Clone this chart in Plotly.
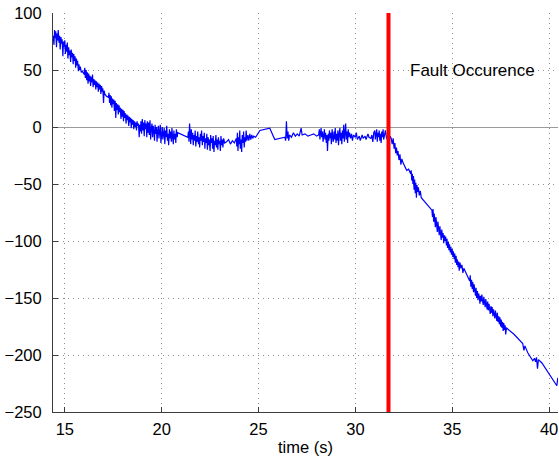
import plotly.graph_objects as go

# ---- data (time in s, signal value) ----
decay_segment = [
    (14.40, 80), (14.44, 72), (14.47, 85), (14.50, 78), (14.53, 84), (14.57, 70),
    (14.60, 82), (14.63, 76), (14.66, 85), (14.70, 74), (14.73, 80), (14.76, 68),
    (14.80, 79), (14.83, 73), (14.86, 77), (14.90, 62), (14.93, 75), (14.96, 70),
    (15.00, 76), (15.03, 64), (15.06, 72), (15.10, 66), (15.13, 74), (15.16, 60),
    (15.20, 70), (15.23, 63), (15.26, 67), (15.30, 57), (15.33, 68), (15.36, 61),
    (15.40, 65), (15.43, 55), (15.46, 64), (15.50, 58), (15.53, 62), (15.56, 52),
    (15.60, 60), (15.63, 54), (15.66, 58), (15.70, 49), (15.73, 55), (15.76, 50),
    (15.80, 53), (15.85, 48), (15.90, 49), (16.00, 46), (16.03, 52), (16.06, 43),
    (16.10, 50), (16.13, 41), (16.16, 48), (16.20, 38), (16.23, 47), (16.26, 40),
    (16.30, 45), (16.33, 36), (16.36, 44), (16.40, 39), (16.43, 46), (16.46, 35),
    (16.50, 42), (16.53, 37), (16.56, 41), (16.60, 33), (16.63, 40), (16.66, 35),
    (16.70, 39), (16.73, 31), (16.76, 38), (16.80, 33), (16.83, 37), (16.86, 29),
    (16.90, 36), (16.93, 31), (16.96, 34), (17.00, 21), (17.03, 32), (17.06, 29),
    (17.15, 27), (17.25, 26), (17.28, 30), (17.31, 21), (17.34, 28), (17.37, 19),
    (17.40, 27), (17.43, 17), (17.46, 25), (17.50, 20), (17.53, 24), (17.56, 14),
    (17.60, 23), (17.63, 8), (17.66, 21), (17.70, 15), (17.73, 20), (17.76, 11),
    (17.80, 19), (17.83, 13), (17.86, 17), (17.90, 7), (17.93, 16), (17.96, 9),
    (18.00, 15), (18.03, 5), (18.06, 14), (18.10, 8), (18.13, 12), (18.16, 3),
    (18.20, 11), (18.23, 6), (18.26, 10), (18.30, 1), (18.33, 9), (18.36, 4),
    (18.40, 8), (18.43, -1), (18.46, 7), (18.50, 2), (18.53, 6), (18.56, -2),
    (18.60, 5), (18.63, 0), (18.66, 4), (18.70, -3), (18.73, 5), (18.76, 1),
    (18.80, 3), (18.84, -9), (18.87, 2), (18.90, -4), (18.93, 5), (18.96, -6),
    (19.00, 7), (19.03, -3), (19.06, 4), (19.10, -8), (19.13, 6), (19.16, -2),
    (19.20, 3), (19.23, -9), (19.26, 5), (19.30, -5),
]

plateau_segment = [
    (19.33, 4), (19.36, -7), (19.40, 6), (19.43, -11), (19.46, -2), (19.50, 3),
    (19.53, -9), (19.56, 1), (19.60, -4), (19.63, -12), (19.66, 2), (19.70, -6),
    (19.73, 0), (19.76, -13), (19.80, -3), (19.83, 1), (19.86, -10), (19.90, -5),
    (19.93, 2), (19.96, -14), (20.00, -4), (20.03, 0), (20.06, -11), (20.10, -7),
    (20.13, -1), (20.16, -15), (20.20, -3), (20.23, -9), (20.26, 1), (20.30, -12),
    (20.33, -6), (20.36, -16), (20.40, -2), (20.43, -10), (20.46, -4), (20.50, -13),
    (20.53, -1), (20.56, -8), (20.60, -15), (20.63, -3), (20.66, -11), (20.70, -6),
    (20.73, -14), (20.76, -2), (20.80, -9), (20.83, -5), (21.35, -9), (21.38, -4),
    (21.41, -13), (21.44, 3), (21.47, -8), (21.50, -15), (21.53, -2), (21.56, -11),
    (21.60, -5), (21.63, -16), (21.66, -7), (21.70, -12), (21.73, -3), (21.76, -17),
    (21.80, -8), (21.83, -13), (21.86, -4), (21.90, -15), (21.93, -9), (21.96, -18),
    (22.00, -6), (22.03, -12), (22.06, -3), (22.10, -16), (22.13, -8), (22.16, -13),
    (22.20, -5), (22.23, -19), (22.26, -10), (22.30, -14), (22.33, -6), (22.36, -20),
    (22.40, -9), (22.43, -16), (22.46, -11), (22.50, -21), (22.53, -7), (22.56, -14),
    (22.60, -10), (22.63, -19), (22.66, -8), (22.70, -22), (22.73, -12), (22.76, -16),
    (22.80, -7), (22.83, -18), (22.86, -11), (22.90, -20), (22.93, -9), (22.96, -15),
    (23.00, -12), (23.03, -21), (23.06, -8), (23.10, -16), (23.13, -11), (23.16, -18),
    (23.20, -10), (23.25, -14), (23.35, -13), (23.45, -11), (23.55, -15), (23.65, -12),
    (23.75, -14), (23.85, -10), (23.88, -17), (23.91, -5), (23.94, -21), (23.97, -9),
    (24.00, -15), (24.03, -3), (24.06, -19), (24.10, -11), (24.13, -22), (24.16, -7),
    (24.20, -14), (24.23, -4), (24.26, -18), (24.30, -9), (24.33, -13), (24.36, -3),
    (24.40, -12), (24.45, -7), (24.50, -12), (24.55, -6), (24.60, -11), (24.65, -7),
    (24.70, -10), (24.75, -8), (24.85, -9), (24.95, -6), (25.07, -3), (25.58, -1),
    (25.84, -11), (26.36, -9), (26.40, -12), (26.44, 5), (26.48, -10), (26.52, -4),
    (26.56, -12),
]

hold_segment = [
    (26.60, -7), (26.70, -9), (26.80, -5), (26.90, -8), (27.00, -6), (27.10, -8),
    (27.20, -1), (27.25, -7), (27.40, -6), (27.55, -8), (27.70, -7), (27.85, -6),
    (28.00, -8), (28.10, -7), (28.14, -2), (28.17, -11), (28.20, -5), (28.23, -1),
    (28.26, -9), (28.30, -4), (28.33, -13), (28.36, -6), (28.40, -2), (28.43, -11),
    (28.46, -5), (28.50, -14), (28.53, -7), (28.56, -21), (28.60, -6), (28.63, -12),
    (28.66, -3), (28.70, -10), (28.73, -5), (28.76, -15), (28.80, -2), (28.83, -9),
    (28.86, -13), (28.90, -4), (28.93, -11), (28.96, -1), (29.00, -14), (29.03, -6),
    (29.06, -12), (29.10, -3), (29.13, -16), (29.16, -7), (29.20, -1), (29.23, -12),
    (29.26, -5), (29.30, -15), (29.33, -3), (29.36, -10), (29.40, 2), (29.43, -13),
    (29.46, -6), (29.50, 3), (29.53, -11), (29.56, -4), (29.60, -14), (29.63, -2),
    (29.66, -9), (29.70, -5), (29.75, -10), (29.80, -6), (29.85, -12), (29.90, -7),
    (30.00, -9), (30.05, -5), (30.10, -11), (30.20, -8), (30.25, -12), (30.35, -7),
    (30.40, -10), (30.50, -8), (30.55, -11), (30.65, -6), (30.70, -9), (30.80, -10),
    (30.85, -7), (30.90, -13), (30.95, -5), (31.00, -3), (31.03, -11), (31.06, -6),
    (31.10, -2), (31.13, -13), (31.16, -5), (31.20, -9), (31.23, -3), (31.26, -12),
    (31.30, -6), (31.33, -14), (31.36, -4), (31.40, -9), (31.43, -2), (31.46, -11),
    (31.50, -6), (31.55, -3), (31.60, -9), (31.65, -11), (31.70, -7),
]

fault_segment = [
    (31.75, -12), (31.80, -8), (31.85, -10), (31.90, -15), (31.95, -10), (32.00, -19),
    (32.04, -14), (32.08, -23), (32.12, -18), (32.16, -25), (32.20, -21), (32.25, -29),
    (32.30, -24), (32.35, -33), (32.40, -28), (32.45, -31), (32.55, -35), (32.65, -38),
    (32.75, -37), (32.85, -41), (32.88, -38), (32.91, -47), (32.94, -41), (32.97, -50),
    (33.00, -43), (33.03, -55), (33.06, -46), (33.09, -58), (33.12, -49), (33.15, -62),
    (33.18, -51), (33.21, -57), (33.25, -53), (33.30, -60), (33.35, -56), (33.40, -62),
    (33.95, -73), (33.98, -79), (34.01, -72), (34.04, -83), (34.07, -76), (34.10, -80),
    (34.13, -88), (34.16, -79), (34.20, -85), (34.23, -92), (34.26, -83), (34.30, -89),
    (34.33, -95), (34.36, -87), (34.40, -94), (34.43, -99), (34.46, -90), (34.50, -97),
    (34.53, -93), (34.56, -102), (34.60, -95), (34.63, -100), (34.66, -96), (34.70, -104),
    (34.73, -98), (34.76, -106), (34.80, -101), (34.83, -108), (34.86, -103), (34.90, -110),
    (34.93, -105), (34.96, -112), (35.00, -107), (35.03, -114), (35.06, -109), (35.10, -116),
    (35.13, -111), (35.16, -119), (35.20, -113), (35.23, -121), (35.26, -116), (35.30, -123),
    (35.33, -118), (35.36, -126), (35.40, -119), (35.45, -124), (35.50, -121), (35.55, -128),
    (35.60, -124), (35.65, -126), (35.90, -135), (35.93, -130), (35.96, -140), (36.00, -134),
    (36.03, -142), (36.06, -136), (36.10, -145), (36.13, -138), (36.16, -143), (36.20, -148),
    (36.23, -141), (36.26, -150), (36.30, -144), (36.33, -152), (36.36, -146), (36.40, -149),
    (36.43, -155), (36.46, -148), (36.50, -153), (36.53, -147), (36.56, -152), (36.60, -156),
    (36.63, -149), (36.66, -154), (36.70, -158), (36.73, -151), (36.76, -156), (36.80, -160),
    (36.83, -153), (36.86, -161), (36.90, -155), (36.93, -159), (36.96, -164), (37.00, -157),
    (37.03, -163), (37.06, -158), (37.10, -166), (37.13, -160), (37.16, -164), (37.20, -168),
    (37.23, -161), (37.26, -166), (37.30, -170), (37.33, -163), (37.36, -171), (37.40, -166),
    (37.43, -173), (37.46, -167), (37.50, -175), (37.53, -169), (37.56, -176), (37.60, -171),
    (37.63, -179), (37.66, -172), (37.70, -178), (37.73, -174), (37.76, -182), (37.80, -176),
    (37.85, -177), (38.20, -182), (38.45, -187), (38.64, -190), (38.70, -196), (38.75, -192),
    (38.90, -198), (39.16, -205), (39.25, -203), (39.30, -206), (39.35, -202), (39.40, -212),
    (39.45, -204), (39.55, -206), (39.63, -207), (40.40, -227), (40.45, -220),
]

fault_time = 31.71
fault_label = "Fault Occurence"
fault_label_pos = (36.04, 50)
x_ticks = [15, 20, 25, 30, 35, 40]
y_ticks = [-250, -200, -150, -100, -50, 0, 50, 100]
x_limits = [14.39, 40.46]
y_limits = [-250, 100]
x_title = "time (s)"

samples = decay_segment + plateau_segment + hold_segment + fault_segment
time = [t for t, _ in samples]
signal = [v for _, v in samples]

FONT = "Liberation Sans, Arial, Helvetica, sans-serif"
AXIS_COLOR = "#3c3c3c"
GRID_COLOR = "#8c8c8c"

fig = go.Figure()
fig.add_trace(go.Scatter(x=time, y=signal, mode="lines",
                         line=dict(color="#0000ff", width=1.2), showlegend=False,
                         hoverinfo="skip"))
fig.add_trace(go.Scatter(x=[fault_time, fault_time], y=y_limits, mode="lines",
                         line=dict(color="#ff0000", width=4), showlegend=False,
                         hoverinfo="skip"))
fig.add_annotation(x=fault_label_pos[0], y=fault_label_pos[1], text=fault_label,
                   showarrow=False, font=dict(family=FONT, size=17, color="#000000"),
                   xanchor="center", yanchor="middle")

axis_common = dict(
    showgrid=True, gridcolor=GRID_COLOR, gridwidth=1, griddash="1px,4px",
    showline=True, linecolor=AXIS_COLOR, linewidth=1, mirror=False,
    ticks="inside", ticklen=5, tickcolor=AXIS_COLOR, tickwidth=1,
    tickfont=dict(family=FONT, size=16.5, color="#000000"),
)

fig.update_xaxes(range=x_limits, tickvals=x_ticks, zeroline=False,
                 ticklabelstandoff=2,
                 title=dict(text=x_title, font=dict(family=FONT, size=16.5, color="#000000"),
                            standoff=4),
                 **axis_common)
fig.update_yaxes(range=y_limits, tickvals=y_ticks, zeroline=True,
                 zerolinecolor="#9a9a9a", zerolinewidth=1.2,
                 ticklabelstandoff=7,
                 **axis_common)

fig.update_layout(
    width=559, height=458,
    margin=dict(l=53, r=1, t=13, b=46, autoexpand=False),
    paper_bgcolor="white", plot_bgcolor="white",
    font=dict(family=FONT),
    showlegend=False,
)

# remove the browser's default 8px page margin so the figure sits at the window origin
fig.write_html("out.html", config={"displayModeBar": False},
               post_script="document.body.style.margin='0px';")
